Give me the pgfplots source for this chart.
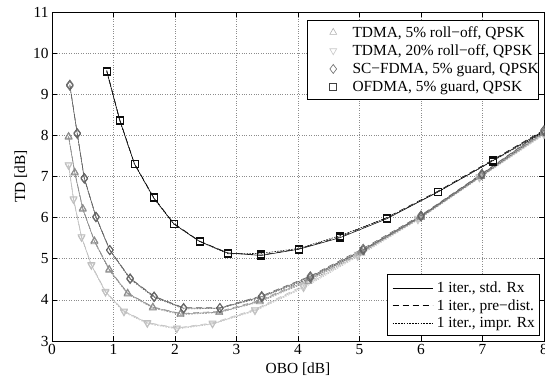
\documentclass[border=0pt]{standalone}
\usepackage{pgfplots}
\pgfplotsset{compat=1.18}
\usepackage{pgfplotstable}
\usepackage{fontspec}
\setmainfont{Liberation Serif}

\definecolor{cOF}{gray}{0.05}
\definecolor{cSC}{gray}{0.38}
\definecolor{cT5}{gray}{0.55}
\definecolor{cT20}{gray}{0.75}

\pgfplotstableread{
x std pre impr
0.89 9.57 9.58 9.55
1.10 8.38 8.39 8.36
1.34 7.31 7.32 7.30
1.65 6.49 6.50 6.48
1.98 5.85 5.86 5.84
2.40 5.42 5.43 5.42
2.86 5.14 5.14 5.12
3.40 5.08 5.09 5.13
4.01 5.23 5.24 5.25
4.68 5.51 5.53 5.56
5.44 5.97 6.00 5.99
6.27 6.62 6.64 6.62
7.16 7.38 7.40 7.37
8.10 8.20 8.22 8.17
}\ofdma

\pgfplotstableread{
x std pre impr
0.29 9.22 9.24 9.20
0.41 8.05 8.06 8.03
0.525 6.96 6.97 6.94
0.715 6.02 6.03 6.00
0.94 5.21 5.22 5.20
1.27 4.52 4.53 4.50
1.66 4.08 4.09 4.06
2.14 3.80 3.81 3.78
2.73 3.80 3.81 3.79
3.41 4.08 4.10 4.06
4.20 4.56 4.58 4.53
5.06 5.22 5.25 5.20
6.00 6.04 6.06 6.02
6.99 7.06 7.07 7.03
8.00 8.12 8.13 8.09
}\scfdma

\pgfplotstableread{
x std pre impr
0.27 7.97 7.98 7.95
0.37 7.10 7.11 7.08
0.50 6.22 6.23 6.20
0.69 5.43 5.44 5.41
0.93 4.74 4.75 4.72
1.23 4.16 4.17 4.14
1.64 3.82 3.83 3.80
2.09 3.66 3.67 3.64
2.72 3.70 3.72 3.69
3.38 3.97 3.99 3.95
4.17 4.48 4.51 4.45
5.03 5.17 5.20 5.14
6.00 6.02 6.04 6.00
6.98 7.02 7.04 7.00
8.00 8.07 8.09 8.05
}\tdmafive

\pgfplotstableread{
x std pre impr
0.27 7.28 7.29 7.26
0.35 6.45 6.46 6.43
0.48 5.53 5.54 5.51
0.64 4.85 4.86 4.83
0.87 4.20 4.21 4.18
1.17 3.72 3.73 3.70
1.55 3.44 3.45 3.42
2.03 3.31 3.32 3.29
2.61 3.42 3.44 3.41
3.30 3.75 3.77 3.73
4.09 4.32 4.35 4.29
4.97 5.08 5.11 5.05
5.95 5.97 5.99 5.94
6.95 6.98 7.00 6.96
8.00 8.03 8.05 8.01
}\tdmatwenty

\newcommand{\fs}{\fontsize{15.4}{18}\selectfont}

\pgfplotsset{
  every axis/.append style={
    scale only axis, width=492pt, height=329pt,
  },
  stdline/.style={solid, line width=0.55pt},
  preline/.style={dash pattern=on 6pt off 4pt, line width=0.55pt},
  imprline/.style={dash pattern=on 1.6pt off 1.2pt, line width=0.55pt},
}

\begin{document}
\begin{tikzpicture}
\useasboundingbox (-52pt,-38pt) rectangle (493pt,341pt);
\begin{axis}[
  xmin=0, xmax=8, ymin=3, ymax=11,
  xtick={0,1,...,8}, ytick={3,4,...,11},
  grid=major,
  major grid style={dotted, black!45, line width=0.5pt},
  axis line style={black, line width=0.6pt},
  major tick length=5pt,
  tick style={black, line width=0.5pt},
  tick label style={font=\fs},
  /pgf/number format/assume math mode=true,
  label style={font=\fs},
  xlabel={OBO [dB]},
  ylabel={TD [dB]},
  xlabel style={yshift=-1pt},
  ylabel style={yshift=-1pt},
  legend style={font=\fs, at={(0.99,0.976)}, anchor=north east,
    cells={anchor=west}, nodes={inner sep=0pt}, column sep=0pt,
    draw=black, line width=0.6pt,
    inner xsep=0pt, inner ysep=6pt, row sep=6pt, fill=white},
  legend image code/.code={\path (0pt,0pt) (45pt,0pt); \draw[#1, only marks] plot coordinates {(26pt,0pt)};},
]
% TDMA 20%
\addplot[cT20, stdline, mark=triangle, mark size=4pt, mark options={solid, rotate=180}, forget plot] table[x=x, y=std]{\tdmatwenty};
\addplot[cT20, preline, mark=triangle, mark size=4pt, mark options={solid, rotate=180}, forget plot] table[x=x, y=pre]{\tdmatwenty};
\addplot[cT20, imprline, mark=triangle, mark size=4pt, mark options={solid, rotate=180}, forget plot] table[x=x, y=impr]{\tdmatwenty};
% TDMA 5%
\addplot[cT5, stdline, mark=triangle, mark size=4pt, mark options={solid}, forget plot] table[x=x, y=std]{\tdmafive};
\addplot[cT5, preline, mark=triangle, mark size=4pt, mark options={solid}, forget plot] table[x=x, y=pre]{\tdmafive};
\addplot[cT5, imprline, mark=triangle, mark size=4pt, mark options={solid}, forget plot] table[x=x, y=impr]{\tdmafive};
% SC-FDMA
\addplot[cSC, stdline, mark=diamond, mark size=4.5pt, mark options={solid}, forget plot] table[x=x, y=std]{\scfdma};
\addplot[cSC, preline, mark=diamond, mark size=4.5pt, mark options={solid}, forget plot] table[x=x, y=pre]{\scfdma};
\addplot[cSC, imprline, mark=diamond, mark size=4.5pt, mark options={solid}, forget plot] table[x=x, y=impr]{\scfdma};
% OFDMA
\addplot[cOF, stdline, mark=square, mark size=3.5pt, mark options={solid}, forget plot] table[x=x, y=std]{\ofdma};
\addplot[cOF, preline, mark=square, mark size=3.5pt, mark options={solid}, forget plot] table[x=x, y=pre]{\ofdma};
\addplot[cOF, imprline, mark=square, mark size=3.5pt, mark options={solid}, forget plot] table[x=x, y=impr]{\ofdma};

\addlegendimage{black!30, mark=triangle, mark size=4pt}
\addlegendentry{TDMA, 5\% roll−off, QPSK\hspace{9pt}}
\addlegendimage{black!22, mark=triangle, mark size=4pt, mark options={rotate=180}}
\addlegendentry{TDMA, 20\% roll−off, QPSK\hspace{9pt}}
\addlegendimage{black!60, mark=diamond, mark size=4.5pt}
\addlegendentry{SC−FDMA, 5\% guard, QPSK\hspace{9pt}}
\addlegendimage{black!75, mark=square, mark size=3.5pt}
\addlegendentry{OFDMA, 5\% guard, QPSK\hspace{9pt}}
\end{axis}

\begin{axis}[
  hide axis,
  xmin=0, xmax=1, ymin=0, ymax=1,
  legend style={font=\fs, at={(0.992,0.015)}, anchor=south east,
    cells={anchor=west}, nodes={inner sep=0pt}, column sep=4pt,
    draw=black, line width=0.6pt,
    inner xsep=5pt, inner ysep=7pt, row sep=5.5pt, fill=white},
  legend image code/.code={\draw[#1] (0pt,0pt) -- (40pt,0pt);},
]
\addplot[draw=none, forget plot] coordinates {(0.5,0.5)};
\addlegendimage{black, stdline}
\addlegendentry{1 iter., std. Rx}
\addlegendimage{black, preline}
\addlegendentry{1 iter., pre−dist.}
\addlegendimage{black, imprline}
\addlegendentry{1 iter., impr. Rx}
\end{axis}
\end{tikzpicture}
\end{document}
